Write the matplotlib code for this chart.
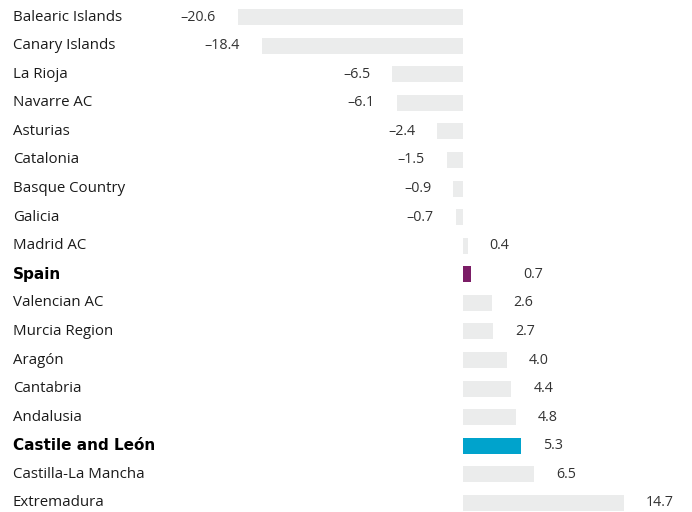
import matplotlib
matplotlib.use("Agg")
import matplotlib.pyplot as plt
import matplotlib.transforms as mtransforms

regions = ["Balearic Islands", "Canary Islands", "La Rioja", "Navarre AC", "Asturias",
           "Catalonia", "Basque Country", "Galicia", "Madrid AC", "Spain",
           "Valencian AC", "Murcia Region", "Aragón", "Cantabria", "Andalusia",
           "Castile and León", "Castilla-La Mancha", "Extremadura"]
values = [-20.6, -18.4, -6.5, -6.1, -2.4, -1.5, -0.9, -0.7, 0.4, 0.7,
          2.6, 2.7, 4.0, 4.4, 4.8, 5.3, 6.5, 14.7]
highlight = {"Spain": "#7b1d66", "Castile and León": "#00a3cc"}
bold_rows = ["Spain", "Castile and León"]
extra_label_gap = {"Spain": 30}

plt.rcParams['font.family'] = ['Open Sans', 'DejaVu Sans']

fig = plt.figure(figsize=(6.92, 5.12), dpi=100)
ax = fig.add_axes([238/692, 0, (624-238)/692, 1])
ax.set_xlim(-20.6, 14.7)
ax.set_ylim(17.315, -0.595)
ax.axis('off')

ypos = list(range(len(regions)))
colors = [highlight.get(r, "#ebecec") for r in regions]
ax.barh(ypos, values, height=0.56, color=colors, linewidth=0)

lab_tr = mtransforms.blended_transform_factory(fig.transFigure, ax.transData)
for y, r, v in zip(ypos, regions, values):
    if r in bold_rows:
        ax.text(13/692, y, r, transform=lab_tr, ha='left', va='center',
                fontsize=11, color='#000000', fontweight='bold',
                family=['DejaVu Sans'])
    else:
        ax.text(13/692, y, r, transform=lab_tr, ha='left', va='center',
                fontsize=10.8, color='#1a1a1a')
    txt = f"{v:.1f}".replace('-', '\u2013')
    gap = 22 + extra_label_gap.get(r, 0)
    if v < 0:
        off = mtransforms.offset_copy(ax.transData, fig=fig, x=-gap, y=0, units='dots')
        ax.text(v, y, txt, transform=off, ha='right', va='center', fontsize=10.3, color='#333333')
    else:
        off = mtransforms.offset_copy(ax.transData, fig=fig, x=gap, y=0, units='dots')
        ax.text(v, y, txt, transform=off, ha='left', va='center', fontsize=10.3, color='#333333')

fig.savefig("out.png", dpi=100)
